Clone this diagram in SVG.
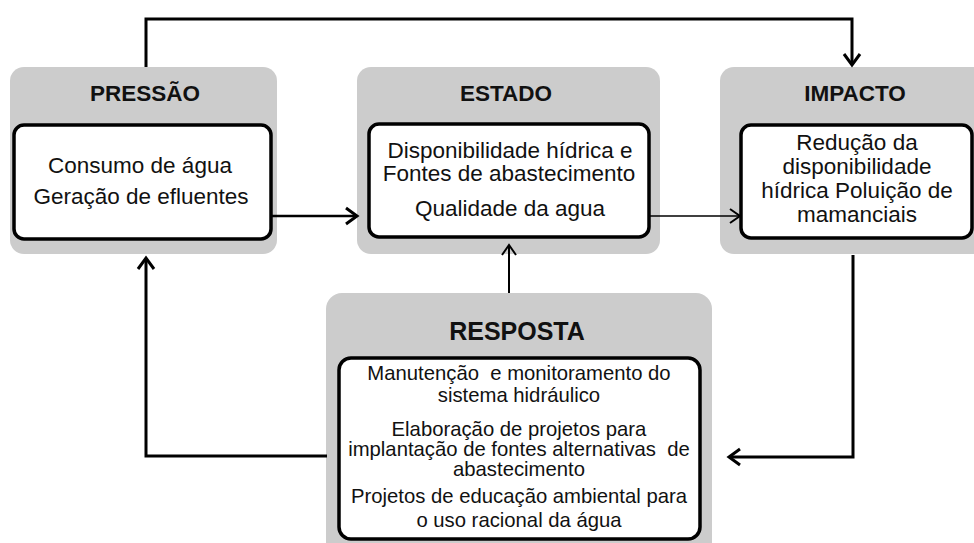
<svg xmlns="http://www.w3.org/2000/svg" width="974" height="543" viewBox="0 0 974 543">
<style>
.outer{fill:#cccccc;stroke:none}
.inner{fill:#ffffff;stroke:#000;stroke-width:3.5}
.title{font-family:"Liberation Sans",Arial,sans-serif;font-weight:bold;fill:#111;text-anchor:middle}
.body{font-family:"Liberation Sans",Arial,sans-serif;fill:#111;text-anchor:middle}
.con{fill:none;stroke:#000;stroke-linejoin:miter}
</style>
<defs>
<marker id="ah" markerUnits="userSpaceOnUse" markerWidth="24" markerHeight="24" viewBox="-14 -12 16 24" refX="0" refY="0" orient="auto">
<path d="M-11,-8 L0,0 L-11,8" fill="none" stroke="#000" stroke-width="3"/>
</marker>
<marker id="ahs" markerUnits="userSpaceOnUse" markerWidth="24" markerHeight="24" viewBox="-14 -12 16 24" refX="0" refY="0" orient="auto">
<path d="M-10,-7 L0,0 L-10,7" fill="none" stroke="#000" stroke-width="2"/>
</marker>
</defs>
<rect width="974" height="543" fill="#fff"/>
<g id="pressao">
<rect class="outer" x="10" y="67" width="267" height="187" rx="14"/>
<rect class="inner" x="14" y="125" width="257" height="114" rx="10"/>
<text class="title" x="145" y="101" font-size="22.5">PRESSÃO</text>
<text class="body" x="140" y="173" font-size="22.5">Consumo de água</text>
<text class="body" x="141" y="204" font-size="22.5">Geração de efluentes</text>
</g>
<g id="estado">
<rect class="outer" x="357" y="67" width="303" height="187" rx="14"/>
<rect class="inner" x="369" y="124" width="280" height="113" rx="10"/>
<text class="title" x="506" y="101" font-size="22.5">ESTADO</text>
<text class="body" x="510" y="158" font-size="22.5">Disponibilidade hídrica e</text>
<text class="body" x="509" y="181" font-size="22.5">Fontes de abastecimento</text>
<text class="body" x="510" y="216" font-size="22.5">Qualidade da agua</text>
</g>
<g id="impacto">
<rect class="outer" x="720" y="67" width="270" height="187" rx="14"/>
<rect class="inner" x="741" y="125" width="231" height="113" rx="10"/>
<text class="title" x="855" y="101" font-size="22.5">IMPACTO</text>
<text class="body" x="857" y="150" font-size="22.5">Redução da</text>
<text class="body" x="857" y="174" font-size="22.5">disponibilidade</text>
<text class="body" x="857" y="198" font-size="22.5">hídrica Poluição de</text>
<text class="body" x="857" y="222" font-size="22.5">mamanciais</text>
</g>
<g id="resposta">
<rect class="outer" x="326" y="293" width="386" height="270" rx="16"/>
<rect class="inner" x="339" y="358" width="361" height="181" rx="12"/>
<text class="title" x="517" y="340" font-size="25">RESPOSTA</text>
<text class="body" x="519" y="380" font-size="20.3" xml:space="preserve">Manutenção  e monitoramento do</text>
<text class="body" x="519" y="402" font-size="20.3">sistema hidráulico</text>
<text class="body" x="519" y="436" font-size="20.3">Elaboração de projetos para</text>
<text class="body" x="519" y="456" font-size="20.3" xml:space="preserve">implantação de fontes alternativas  de</text>
<text class="body" x="519" y="476" font-size="20.3">abastecimento</text>
<text class="body" x="519" y="503" font-size="20.3">Projetos de educação ambiental para</text>
<text class="body" x="519" y="527" font-size="20.3">o uso racional da água</text>
</g>
<g id="connectors">
<path class="con" d="M146,67 V19 H852 V65" stroke-width="3" marker-end="url(#ah)"/>
<path class="con" d="M272,216 H357" stroke-width="2.5" marker-end="url(#ah)"/>
<path class="con" d="M650,216 H740" stroke-width="1.5" marker-end="url(#ahs)"/>
<path class="con" d="M509,293 V245" stroke-width="2" marker-end="url(#ahs)"/>
<path class="con" d="M853,255 V457 H729" stroke-width="3" marker-end="url(#ah)"/>
<path class="con" d="M327,456 H146 V258" stroke-width="3" marker-end="url(#ah)"/>
</g>
</svg>
